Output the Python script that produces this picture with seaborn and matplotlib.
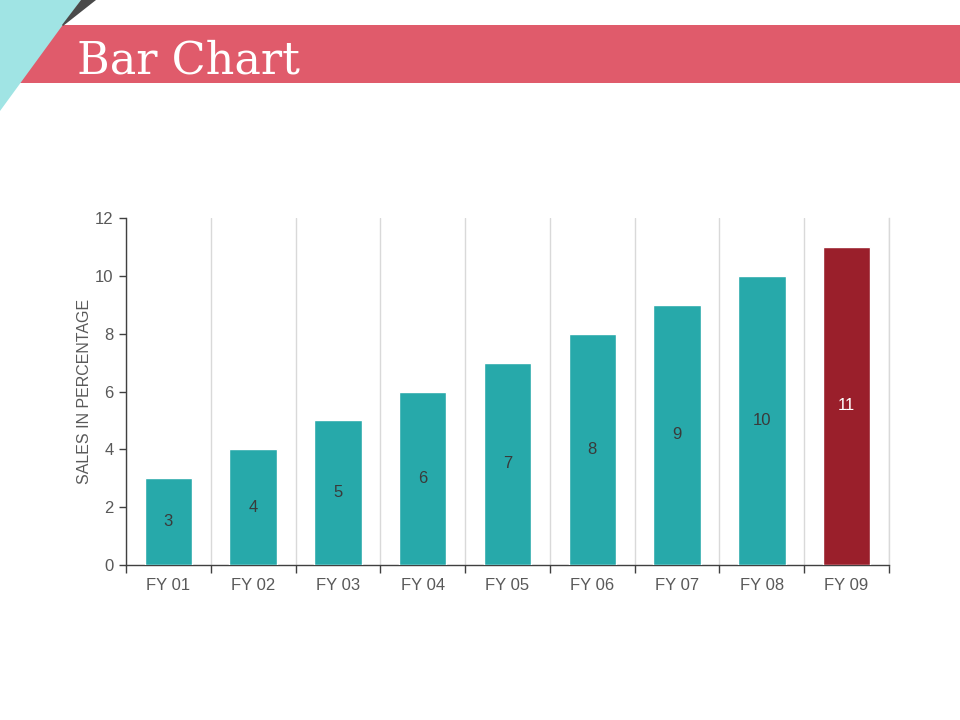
import matplotlib
matplotlib.use("Agg")
import matplotlib.pyplot as plt
from matplotlib.patches import Polygon, Rectangle
import seaborn as sns
import pandas as pd
import numpy as np

categories = ["FY 01", "FY 02", "FY 03", "FY 04", "FY 05", "FY 06", "FY 07", "FY 08", "FY 09"]
values = [3, 4, 5, 6, 7, 8, 9, 10, 11]
bar_colors = ["#27A9AA"] * 8 + ["#9A1F2B"]
label_colors = ["#3A3A3A"] * 8 + ["#FFFFFF"]
y_ticks = [0, 2, 4, 6, 8, 10, 12]
y_label = "SALES IN PERCENTAGE"
title = "Bar Chart"

sns.set_theme(style="white")
plt.rcParams["font.family"] = ["Liberation Sans", "DejaVu Sans"]

df = pd.DataFrame({"cat": categories, "val": values})

fig = plt.figure(figsize=(9.6, 7.2), dpi=100)
fig.patch.set_facecolor("white")

W, H = 960.0, 720.0
def fp(x, y):
    return (x / W, 1 - y / H)

fig.patches.append(Rectangle(fp(20, 83), (W - 20) / W, 58 / H, transform=fig.transFigure,
                             facecolor="#E05B6B", edgecolor="none", zorder=1))
fig.patches.append(Polygon([fp(0, 0), fp(81, 0), fp(0, 111)], closed=True, transform=fig.transFigure,
                           facecolor="#A0E4E4", edgecolor="none", zorder=2))
fig.patches.append(Polygon([fp(81, 0), fp(96, 0), fp(63, 26), fp(62, 25)], closed=True, transform=fig.transFigure,
                           facecolor="#4A4A4A", edgecolor="none", zorder=2))
fig.text(77 / W, 1 - 73 / H, title, family=["DejaVu Serif"], fontsize=32, color="white",
         ha="left", va="baseline", zorder=3)

ax = fig.add_axes([126 / W, 1 - 565 / H, (889 - 126) / W, (565 - 218) / H])
sns.barplot(data=df, x="cat", y="val", hue="cat", palette=bar_colors, legend=False,
            width=0.56, saturation=1, ax=ax, zorder=3)

ax.set_ylim(0, 12)
ax.set_xlim(-0.5, len(categories) - 0.5)
ax.set_yticks(y_ticks)
ax.set_xticks(range(len(categories)))
ax.set_xticklabels(categories)
ax.set_xticks(np.arange(-0.5, len(categories), 1.0), minor=True)
ax.tick_params(axis="x", which="major", length=0, pad=9, labelsize=12, labelcolor="#595959")
ax.tick_params(axis="x", which="minor", length=6, width=1, color="#404040", direction="out", bottom=True)
ax.tick_params(axis="y", which="major", length=5, width=1, color="#404040", direction="out", left=True,
               labelsize=12, labelcolor="#595959", pad=4)
ax.grid(False)
ax.grid(True, which="minor", axis="x", color="#D9D9D9", linewidth=1, zorder=0)
ax.set_axisbelow(True)

ax.spines["top"].set_visible(False)
ax.spines["right"].set_visible(True)
ax.spines["right"].set_color("#D9D9D9")
ax.spines["right"].set_linewidth(1)
for s in ["left", "bottom"]:
    ax.spines[s].set_color("#404040")
    ax.spines[s].set_linewidth(1)

ax.set_xlabel("")
ax.set_ylabel(y_label, fontsize=11.5, color="#595959", labelpad=2)

for i, c in enumerate(ax.containers):
    ax.bar_label(c, labels=[str(values[i])], label_type="center", fontsize=12, color=label_colors[i])

fig.savefig("out.png", dpi=100, facecolor="white")
